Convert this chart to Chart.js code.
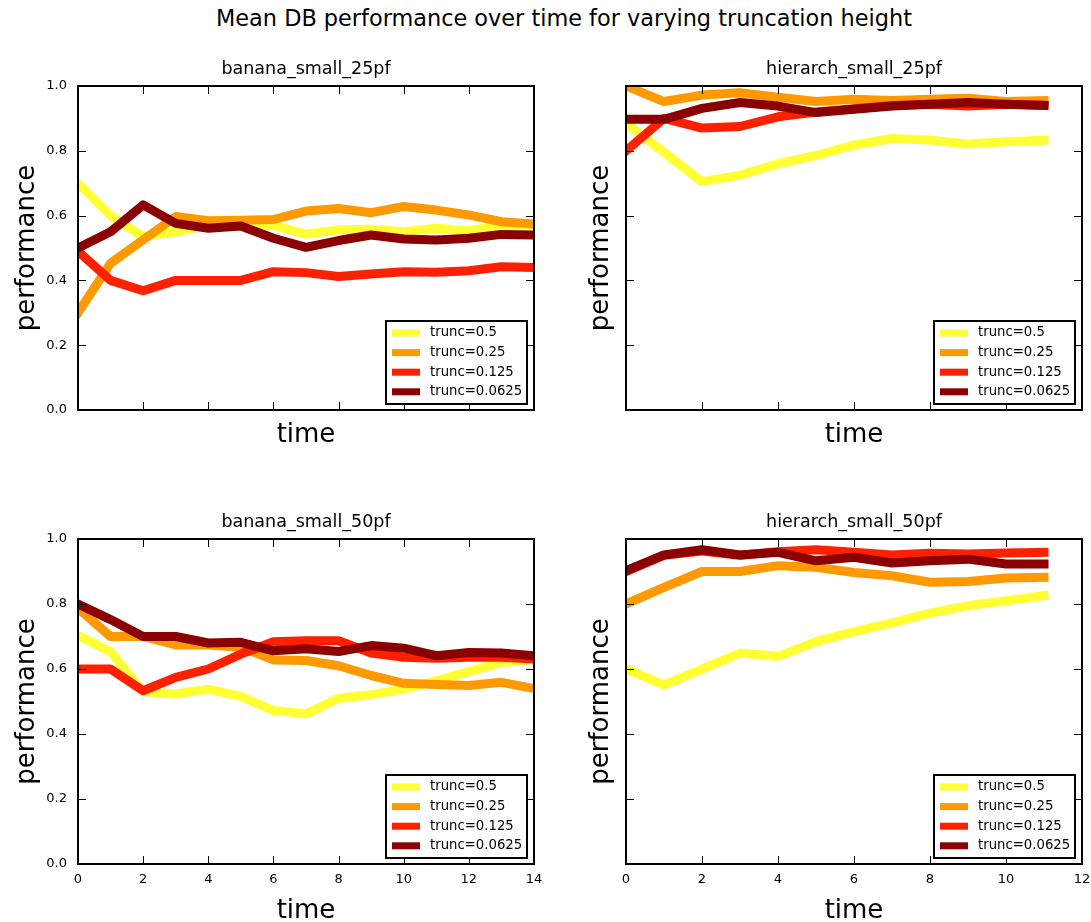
<!DOCTYPE html>
<html>
<head>
<meta charset="utf-8">
<script src="https://cdn.jsdelivr.net/npm/chart.js@4.4.0/dist/chart.umd.min.js"></script>
<style>
  body { margin: 0; background: #fff; width: 1091px; height: 922px; position: relative; overflow: hidden; font-family: 'DejaVu Sans', sans-serif; }
  #suptitle { position: absolute; left: 0; width: 1128px; top: 7px; text-align: center; font-size: 22.4px; line-height: 22px; color: #000; }
  canvas { position: absolute; }
</style>
</head>
<body>
<div id="suptitle">Mean DB performance over time for varying truncation height</div>
<canvas id="c1"></canvas>
<canvas id="c2"></canvas>
<canvas id="c3"></canvas>
<canvas id="c4"></canvas>
<script>
const truncLabels = ['trunc=0.5', 'trunc=0.25', 'trunc=0.125', 'trunc=0.0625'];
const truncColors = ['#ffff33', '#ff9900', '#ff2000', '#8b0000'];

const timesBanana = [0,1,2,3,4,5,6,7,8,9,10,11,12,13,14];
const timesHierarch = [0,1,2,3,4,5,6,7,8,9,10,11];

// banana_small_25pf
const b25_05    = [0.70,0.60,0.535,0.55,0.57,0.575,0.57,0.543,0.556,0.558,0.55,0.561,0.553,0.571,0.572];
const b25_025   = [0.30,0.453,0.525,0.597,0.584,0.586,0.588,0.614,0.622,0.609,0.628,0.617,0.602,0.581,0.574];
const b25_0125  = [0.49,0.40,0.368,0.40,0.40,0.40,0.427,0.424,0.412,0.42,0.427,0.425,0.43,0.442,0.44];
const b25_00625 = [0.50,0.55,0.633,0.576,0.561,0.568,0.53,0.502,0.523,0.54,0.528,0.525,0.53,0.542,0.54];

// hierarch_small_25pf
const h25_05    = [0.885,0.795,0.705,0.725,0.76,0.786,0.818,0.838,0.833,0.821,0.828,0.833];
const h25_025   = [1.0,0.952,0.972,0.979,0.965,0.952,0.959,0.955,0.959,0.962,0.952,0.955];
const h25_0125  = [0.80,0.90,0.87,0.875,0.905,0.92,0.93,0.94,0.944,0.938,0.944,0.94];
const h25_00625 = [0.897,0.897,0.931,0.949,0.938,0.918,0.928,0.938,0.944,0.949,0.944,0.94];

// banana_small_50pf
const b50_05    = [0.703,0.653,0.53,0.523,0.538,0.516,0.472,0.462,0.51,0.521,0.538,0.564,0.592,0.62,0.629];
const b50_025   = [0.787,0.70,0.70,0.674,0.674,0.667,0.628,0.626,0.61,0.58,0.556,0.552,0.549,0.559,0.54];
const b50_0125  = [0.60,0.60,0.533,0.574,0.60,0.646,0.684,0.687,0.687,0.649,0.636,0.633,0.636,0.636,0.631];
const b50_00625 = [0.80,0.752,0.70,0.70,0.68,0.682,0.656,0.662,0.654,0.672,0.664,0.641,0.651,0.649,0.641];

// hierarch_small_50pf
const h50_05    = [0.60,0.551,0.60,0.649,0.639,0.684,0.715,0.742,0.772,0.795,0.81,0.826];
const h50_025   = [0.80,0.851,0.90,0.90,0.918,0.913,0.897,0.887,0.867,0.869,0.88,0.882];
const h50_0125  = [0.90,0.95,0.963,0.95,0.961,0.967,0.959,0.951,0.956,0.954,0.957,0.959];
const h50_00625 = [0.903,0.951,0.967,0.951,0.959,0.933,0.944,0.926,0.933,0.938,0.923,0.923];

const FONT = "'DejaVu Sans', sans-serif";

// matplotlib style frame + inward ticks + title centred on the axes
const framePlugin = {
  id: 'frame',
  afterDatasetsDraw(chart, args, opts) {
    const {ctx, chartArea: a, scales} = chart;
    ctx.save();
    ctx.strokeStyle = '#000';
    ctx.lineWidth = 1;
    ctx.beginPath();
    scales.x.ticks.forEach(t => {
      const px = Math.round(scales.x.getPixelForValue(t.value)) + 0.5;
      ctx.moveTo(px, a.bottom); ctx.lineTo(px, a.bottom - 8);
      ctx.moveTo(px, a.top); ctx.lineTo(px, a.top + 8);
    });
    scales.y.ticks.forEach(t => {
      const py = Math.round(scales.y.getPixelForValue(t.value)) + 0.5;
      ctx.moveTo(a.left, py); ctx.lineTo(a.left + 8, py);
      ctx.moveTo(a.right, py); ctx.lineTo(a.right - 8, py);
    });
    ctx.stroke();
    ctx.lineWidth = 2;
    ctx.strokeRect(a.left, a.top, a.right - a.left, a.bottom - a.top);
    ctx.fillStyle = '#000';
    ctx.font = '17.5px ' + FONT;
    ctx.textAlign = 'center';
    ctx.textBaseline = 'middle';
    ctx.fillText(opts.text, (a.left + a.right) / 2, a.top - 17);
    ctx.restore();
  }
};

// legend box in lower right of the plot area
const boxLegend = {
  id: 'boxLegend',
  afterDraw(chart) {
    const {ctx, chartArea: a} = chart;
    const w = 141, h = 83;
    const x = a.right - 7 - w, y = a.bottom - 6 - h;
    ctx.save();
    ctx.fillStyle = '#fff';
    ctx.fillRect(x, y, w, h);
    ctx.strokeStyle = '#000';
    ctx.lineWidth = 2;
    ctx.strokeRect(x, y, w, h);
    ctx.font = '13.25px ' + FONT;
    ctx.textBaseline = 'middle';
    truncLabels.forEach((lab, i) => {
      const cy = y + 12 + i * 19.6;
      ctx.fillStyle = truncColors[i];
      ctx.fillRect(x + 6, cy - 3.5, 28, 7);
      ctx.fillStyle = '#000';
      ctx.fillText(lab, x + 44, cy);
    });
    ctx.restore();
  }
};

function makePanel(id, cfg) {
  const el = document.getElementById(id);
  el.width = cfg.width; el.height = cfg.height;
  el.style.left = cfg.left + 'px'; el.style.top = cfg.top + 'px';
  el.style.width = cfg.width + 'px'; el.style.height = cfg.height + 'px';
  const datasets = cfg.series.map((vals, i) => ({
    label: truncLabels[i],
    data: vals.map((v, k) => ({x: cfg.times[k], y: v})),
    borderColor: truncColors[i],
    backgroundColor: truncColors[i],
    borderWidth: 9,
    borderJoinStyle: 'round',
    borderCapStyle: 'square',
    pointRadius: 0,
    tension: 0,
    fill: false,
    clip: 0,
    order: 3 - i
  }));
  return new Chart(el, {
    type: 'line',
    data: {datasets},
    plugins: [framePlugin, boxLegend],
    options: {
      responsive: false,
      animation: false,
      layout: {padding: {top: 36, right: cfg.padRight, bottom: 0, left: 0}},
      plugins: {
        legend: {display: false},
        tooltip: {enabled: false},
        title: {display: false},
        frame: {text: cfg.title}
      },
      scales: {
        x: {
          type: 'linear', min: 0, max: cfg.xMax,
          grid: {display: false, drawTicks: false},
          border: {display: false},
          ticks: {display: cfg.showX, stepSize: 2, padding: 8, color: '#000', font: {family: FONT, size: 13}, maxRotation: 0},
          title: {display: true, text: 'time', color: '#000', font: {family: FONT, size: 26, lineHeight: 1}, padding: {top: 0, bottom: 0}},
          afterFit: s => { s.height = cfg.xAxisHeight; s.paddingLeft = 0; s.paddingRight = 0; }
        },
        y: {
          min: 0, max: 1,
          grid: {display: false, drawTicks: false},
          border: {display: false},
          ticks: {display: cfg.showY, stepSize: 0.2, padding: 11, color: '#000', font: {family: FONT, size: 13},
                  callback: v => v.toFixed(1)},
          title: {display: true, text: 'performance', color: '#000', font: {family: FONT, size: 26, lineHeight: 1}, padding: {top: cfg.yTitlePad, bottom: 0}},
          afterFit: s => { s.width = cfg.yAxisWidth; s.paddingTop = 0; s.paddingBottom = 0; }
        }
      }
    }
  });
}

makePanel('c1', {title: 'banana_small_25pf', left: 0, top: 50, width: 545, height: 398, padRight: 11,
  xMax: 14, times: timesBanana, showX: false, showY: true, xAxisHeight: 38, yAxisWidth: 78, yTitlePad: 14,
  series: [b25_05, b25_025, b25_0125, b25_00625]});
makePanel('c2', {title: 'hierarch_small_25pf', left: 575, top: 50, width: 516, height: 398, padRight: 9,
  xMax: 12, times: timesHierarch, showX: false, showY: false, xAxisHeight: 38, yAxisWidth: 51, yTitlePad: 13,
  series: [h25_05, h25_025, h25_0125, h25_00625]});
makePanel('c3', {title: 'banana_small_50pf', left: 0, top: 503, width: 545, height: 421, padRight: 11,
  xMax: 14, times: timesBanana, showX: true, showY: true, xAxisHeight: 60, yAxisWidth: 78, yTitlePad: 14,
  series: [b50_05, b50_025, b50_0125, b50_00625]});
makePanel('c4', {title: 'hierarch_small_50pf', left: 575, top: 503, width: 516, height: 421, padRight: 9,
  xMax: 12, times: timesHierarch, showX: true, showY: false, xAxisHeight: 60, yAxisWidth: 51, yTitlePad: 13,
  series: [h50_05, h50_025, h50_0125, h50_00625]});
</script>
</body>
</html>
